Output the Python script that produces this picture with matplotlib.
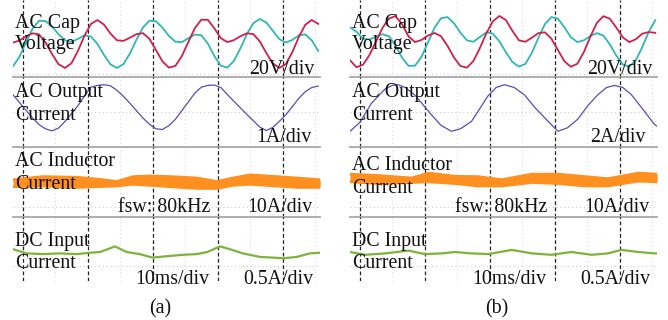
import numpy as np
import matplotlib.pyplot as plt

plt.rcParams['font.family'] = ['Liberation Serif', 'DejaVu Serif']

W, H = 668, 320

# common time base for the sampled traces, ms (0 = first dashed grid line)
t_ms = np.arange(-1.5, 46, 1.0)

# ---- (a) ----
cap_red_a = [0.8, 2.0, 4.4, 6.1, 5.5, 0.9, -5.7, -11.5, -13.7, -11.0, -3.9, 4.7,
             11.5, 13.7, 11.1, 6.0, 2.1, 1.8, 3.6, 5.6, 6.2, 3.0, -3.4, -9.9,
             -13.5, -12.5, -6.9, 1.2, 9.1, 13.9, 13.8, 9.0, 3.3, 1.1, 2.2, 4.4,
             6.1, 5.7, 1.5, -5.1, -11.0, -13.7, -11.5, -4.7, 3.9, 11.0, 13.7, 11.5]
cap_cyan_a = [-12.7, -7.3, 0.9, 8.7, 13.3, 13.1, 10.0, 5.6, 2.1, 1.2, 2.9, 4.9,
              4.3, 0.0, -6.2, -11.6, -13.7, -11.5, -5.4, 2.4, 9.4, 13.3, 13.0, 9.4,
              4.6, 1.3, 1.1, 3.3, 5.4, 5.0, 0.2, -6.9, -12.4, -13.5, -9.7, -2.6,
              5.6, 11.9, 14.3, 12.3, 7.6, 2.8, 0.8, 2.3, 4.9, 5.5, 2.1, -4.0]
out_cur_a = [0.49, 0.27, 0.05, -0.17, -0.36, -0.48, -0.54, -0.46, -0.27, -0.05,
             0.18, 0.46, 0.71, 0.76, 0.78, 0.75, 0.62, 0.45, 0.25, 0.04, -0.17,
             -0.35, -0.48, -0.50, -0.39, -0.21, 0.04, 0.29, 0.54, 0.71, 0.76, 0.77,
             0.70, 0.50, 0.31, 0.12, -0.07, -0.25, -0.43, -0.53, -0.44, -0.27,
             -0.08, 0.15, 0.39, 0.58, 0.70, 0.74]
ind_t_a = [-1.5, 3.1, 8.4, 11.4, 14.5, 17.0, 19.6, 22.7, 26.8, 29.9, 32.4, 35.0,
           39.1, 42.2, 45.8]
ind_hi_a = [0.6, 1.5, 1.3, 0.8, 0.1, 1.5, 1.7, 1.5, 1.1, 0.1, 1.1, 2.0, 1.5, 1.1, 0.6]
ind_lo_a = [-1.3, -1.1, -1.5, -1.3, -1.1, -0.6, -0.9, -1.3, -1.8, -1.8, -0.9, -0.6,
            -1.1, -1.5, -1.5]
dc_t_a = [-1.5, 0.6, 3.1, 5.7, 8.3, 10.4, 11.9, 14.2, 16.0, 18.0, 20.0, 22.2,
          24.7, 26.8, 28.4, 30.4, 31.9, 33.9, 36.5, 38.5, 40.1, 42.2, 44.2, 45.8]
dc_a = [0.24, 0.18, 0.17, 0.18, 0.17, 0.19, 0.20, 0.28, 0.20, 0.17, 0.12, 0.14,
        0.16, 0.17, 0.20, 0.28, 0.24, 0.18, 0.13, 0.12, 0.11, 0.13, 0.18, 0.19]

# ---- (b) ----
cap_red_b = [-9.3, -13.3, -11.8, -6.3, 1.5, 9.2, 14.6, 15.9, 11.4, 4.4, 1.1, 2.3,
             4.8, 6.3, 4.5, -1.0, -7.7, -12.6, -13.5, -9.7, -2.3, 6.2, 13.0, 16.0,
             13.7, 7.5, 2.1, 1.3, 3.6, 6.2, 6.7, 3.1, -3.4, -9.8, -13.0, -11.3,
             -4.7, 4.2, 12.0, 15.9, 14.5, 9.4, 3.8, 1.1, 2.7, 5.9, 6.8, 6.4]
cap_cyan_b = [9.5, 7.0, 3.0, 2.6, 4.2, 5.6, 4.4, -0.9, -7.8, -12.5, -12.4, -7.4,
              0.9, 9.2, 14.7, 15.4, 11.9, 6.5, 2.1, 1.3, 4.0, 6.7, 5.9, 1.5,
              -4.7, -10.3, -12.9, -11.4, -5.1, 3.5, 11.3, 15.4, 14.5, 9.6, 3.9, 1.1,
              2.1, 4.6, 6.2, 4.9, -0.2, -6.6, -11.7, -13.0, -9.4, -1.8, 6.9, 13.6]
out_t_b = [-1.5, 0.0, 1.8, 3.85, 5.0, 5.9, 7.0, 8.5, 10.0, 11.0, 12.5, 14.1, 15.5,
           17.2, 18.5, 19.7, 21.0, 22.3, 23.8, 25.4, 27.0, 28.5, 30.5, 32.0, 33.6,
           35.2, 36.7, 38.0, 39.2, 40.5, 41.8, 43.5, 45.4, 45.9]
out_cur_b = [-1.10, -0.60, 0.50, 1.30, 1.52, 1.56, 1.40, 0.96, 0.30, -0.14, -0.76,
             -1.10, -0.96, -0.54, 0.20, 0.90, 1.40, 1.56, 1.40, 0.96, 0.24, -0.34,
             -1.10, -0.90, -0.40, 0.40, 1.00, 1.40, 1.52, 1.40, 1.00, 0.20, -0.72,
             -0.84]
ind_t_b = [-1.5, 2.9, 8.0, 10.6, 14.7, 18.2, 21.8, 26.5, 30.6, 34.7, 38.2, 42.9, 45.8]
ind_hi_b = [2.2, 1.8, 1.1, 2.5, 1.6, 1.5, 0.6, 2.2, 2.2, 1.5, 0.9, 2.5, 2.2]
ind_lo_b = [0.1, -0.4, -0.1, 0.1, -0.4, -1.1, -1.1, -0.1, -0.4, -1.1, -1.1, 0.3, 0.1]
dc_t_b = [-1.5, 0.8, 3.9, 7.5, 10.0, 12.6, 14.7, 17.2, 19.8, 23.4, 26.5, 29.5,
          32.6, 35.7, 38.2, 40.3, 42.9, 45.4, 45.9]
dc_b = [0.20, 0.16, 0.18, 0.22, 0.17, 0.18, 0.20, 0.18, 0.17, 0.23, 0.18, 0.16,
        0.20, 0.16, 0.18, 0.23, 0.20, 0.18, 0.18]

scales_a = [20, 1, 10, 0.5]
scales_b = [20, 2, 10, 0.5]
scale_text_a = ['20V/div', '1A/div', '10A/div', '0.5A/div']
scale_text_b = ['20V/div', '2A/div', '10A/div', '0.5A/div']

RED, CYAN, PURPLE, ORANGE, GREEN = '#d0204c', '#2fb8b2', '#5a4db4', '#ff8f1f', '#7cb43a'

# strip geometry in pixels: top, bottom, trace centre
STRIPS = [(0, 77, 44), (77, 147, 112), (147, 217, 182), (217, 281, 266)]
DIV_PX = 35.0
PANEL_W = 307.5
XLIM = (-1.55, 45.8)
# faint dotted row in each strip (px)
DOT_ROWS = [74, 112, 207, 266]


def fx(x):
    return x / W


def fy(y):
    return 1 - y / H


def make_strips(fig, left):
    axes = []
    for i, (top, bot, c) in enumerate(STRIPS):
        ax = fig.add_axes([fx(left), fy(bot), PANEL_W / W, (bot - top) / H])
        ax.set_xlim(*XLIM)
        ax.set_ylim((c - bot) / DIV_PX, (c - top) / DIV_PX)
        ax.set_xticks([])
        ax.set_yticks([])
        ax.patch.set_alpha(0)
        for s in ax.spines.values():
            s.set_visible(False)
        if i < 3:
            ax.spines['bottom'].set_visible(True)
            ax.spines['bottom'].set_color('#a8a8a8')
            ax.spines['bottom'].set_linewidth(1.3)
        for t in [0, 10, 20, 30, 40]:
            ax.axvline(t, color='#222222', lw=0.9, ls=(0, (3, 2)), zorder=1)
        for t in [5, 15, 25, 35, 45]:
            ax.axvline(t, color='#d4d4d4', lw=0.7, ls=(0, (1, 3)), zorder=0)
        ax.axhline((c - DOT_ROWS[i]) / DIV_PX, color='#c4c4c4', lw=0.7,
                   ls=(0, (1, 3)), zorder=0)
        axes.append(ax)
    return axes


def draw_panel(fig, left, scales, red, cyan, out_t, out_cur, ind_t, ind_hi, ind_lo,
               dc_t, dc):
    ax = make_strips(fig, left)
    # traces are given in physical units; strips are in divisions
    ax[0].plot(t_ms, np.array(cyan) / scales[0], color=CYAN, lw=1.3, zorder=2)
    ax[0].plot(t_ms, np.array(red) / scales[0], color=RED, lw=1.3, zorder=2)
    ax[1].plot(out_t, np.array(out_cur) / scales[1], color=PURPLE, lw=0.9, zorder=2)
    hi = np.array(ind_hi) / scales[2]
    lo = np.array(ind_lo) / scales[2]
    ax[2].fill_between(ind_t, lo, hi, color=ORANGE, lw=0, zorder=2)
    ax[2].plot(ind_t, hi, color=ORANGE, lw=2.2, zorder=2)
    ax[2].plot(ind_t, lo, color=ORANGE, lw=2.2, zorder=2)
    ax[3].plot(dc_t, np.array(dc) / scales[3], color=GREEN, lw=1.6, zorder=2)


def label(fig, x, y, s, ha='left', va='baseline'):
    fig.text(fx(x), fy(y), s, ha=ha, va=va, fontsize=14.3, color='#111111', zorder=5)


fig = plt.figure(figsize=(W / 100, H / 100), dpi=100)

draw_panel(fig, 12.7, scales_a, cap_red_a, cap_cyan_a, t_ms, out_cur_a,
           ind_t_a, ind_hi_a, ind_lo_a, dc_t_a, dc_a)
draw_panel(fig, 349.7, scales_b, cap_red_b, cap_cyan_b, out_t_b, out_cur_b,
           ind_t_b, ind_hi_b, ind_lo_b, dc_t_b, dc_b)

for ox, sc, ind_y, tag in [(0, scale_text_a, 0, '(a)'), (337, scale_text_b, 4, '(b)')]:
    label(fig, 15 + ox, 28, 'AC Cap')
    label(fig, 15 + ox, 49.5, 'Voltage')
    label(fig, 315 + ox, 74.5, sc[0], ha='right')
    label(fig, 15 + ox, 96.5, 'AC Output')
    label(fig, 15 + ox, 119.5, 'Current')
    label(fig, (312 if ox == 0 else 309) + ox, 141.5, sc[1], ha='right')
    label(fig, 15 + ox, 166.5 + ind_y, 'AC Inductor')
    label(fig, 15 + ox, 189 + ind_y, 'Current')
    label(fig, 118 + ox, 212.5, 'fsw: 80kHz')
    label(fig, 313 + ox, 212.5, sc[2], ha='right')
    label(fig, 15 + ox, 246, 'DC Input')
    label(fig, 15 + ox, 268, 'Current')
    label(fig, 135 + ox, 283.5, '10ms/div')
    label(fig, 313 + ox, 283.5, sc[3], ha='right')
    label(fig, 160 + ox, 309, tag, ha='center', va='center')

fig.savefig('out.png', dpi=100)
